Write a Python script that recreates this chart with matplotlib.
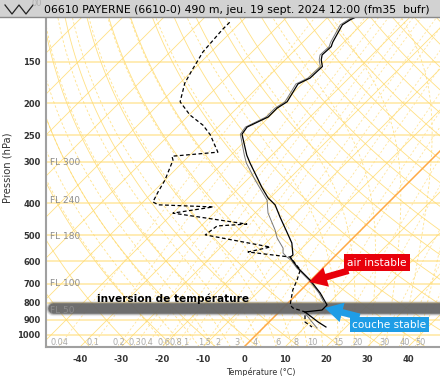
import numpy as np
import matplotlib
matplotlib.use('Agg')
import matplotlib.pyplot as plt
from matplotlib.patches import Rectangle
from matplotlib.lines import Line2D

## sounding data
# temperature, black solid
p_temp = [110, 112, 116, 131, 135, 143, 148, 155, 168, 175, 198, 207, 220, 236, 248,
          287, 303, 360, 386, 405, 441, 492, 528, 574, 582, 594, 628, 683, 747, 812,
          841, 852, 914, 946]
t_temp = [-53.2, -53.9, -54.6, -52.7, -52.0, -52.2, -51.2, -49.3, -49.5, -51.0, -49.3, -50.2, -50.2, -52.9, -52.4,
          -46.1, -43.4, -34.4, -30.5, -27.1, -22.9, -17.3, -13.7, -10.5, -10.7, -9.5, -6.1, -0.2, 5.4, 10.0,
          10.0, 6.3, 12.0, 15.1]
# second temperature trace, thin grey
p_temp2 = [110, 112, 116, 131, 135, 143, 148, 155, 168, 175, 198, 207, 220, 236, 248,
           287, 303, 341, 392, 429, 482, 510, 547, 566, 582, 594, 628, 683, 747, 812,
           841, 852, 914, 953]
t_temp2 = [-53.7, -54.4, -55.1, -53.2, -52.5, -52.7, -51.7, -49.8, -50.0, -51.5, -49.8, -50.7, -50.7, -53.3, -52.8,
           -46.7, -44.3, -38.0, -30.2, -26.8, -21.0, -18.5, -14.6, -13.4, -11.5, -9.8, -6.4, -0.5, 5.1, 9.6,
           9.6, 6.1, 10.5, 13.2]
# dew point, black dashed
p_dew = [114, 120, 140, 159, 174, 198, 217, 233, 249, 281, 289, 297, 341, 370, 397,
         405, 411, 429, 463, 469, 499, 543, 562, 582, 636, 683, 732, 812, 829, 852,
         914, 946]
t_dew = [-82.7, -82.7, -82.0, -80.2, -78.8, -75.4, -69.8, -64.1, -60.0, -53.9, -64.1, -62.9, -60.0, -58.8, -57.6,
         -55.6, -41.7, -50.0, -29.3, -36.1, -36.8, -18.0, -22.2, -10.7, -5.1, -3.4, -2.0, 1.0, 2.4, 6.3,
         8.8, 11.7]

## diagram background
isobars = [150, 200, 250, 300, 400, 500, 600, 700, 800, 900, 1000]
xticks = [-40, -30, -20, -10, 0, 10, 20, 30, 40]
mix_ratios = [0.04, 0.1, 0.2, 0.3, 0.4, 0.6, 0.8, 1, 1.5, 2, 3, 4, 6, 8, 10, 15, 20, 30, 40, 50]
mix_labels = ['0.04', '0.1', '0.2', '0.3', '0.4', '0.6', '0.8', '1', '1.5', '2', '3', '4', '6', '8',
              '10', '15', '20', '30', '40', '50']
fl_names = ['FL 300', 'FL 240', 'FL 180', 'FL 100', 'FL 50']
fl_press = [301, 393, 506, 697, 843]
inversion_p = 828

title = '06610 PAYERNE (6610-0) 490 m, jeu. 19 sept. 2024 12:00 (fm35  bufr)'

W, H = 440, 376
fig = plt.figure(figsize=(W / 100, H / 100), dpi=100)
ax_l, ax_r, ax_b, ax_t = 46, 440, 347, 3.4   # pixel box, measured from top
ax = fig.add_axes([ax_l / W, (H - ax_b) / H, (ax_r - ax_l) / W, (ax_b - ax_t) / H])

P_BOT, P_TOP = 1087, 100
T_MIN, T_MAX = -48.3, 47.8
ax.set_yscale('log')
ax.set_ylim(P_BOT, P_TOP)
ax.set_xlim(T_MIN, T_MAX)

# 45 degree skew in pixel space
px_deg = (ax_r - ax_l) / (T_MAX - T_MIN)
px_ln = (ax_b - ax_t) / np.log(P_BOT / P_TOP)
SKEW = px_ln / px_deg


def skx(t, p):
    return np.asarray(t, float) + SKEW * np.log(P_BOT / np.asarray(p, float))


yel = '#ffdb6e'
pp = np.geomspace(P_BOT, P_TOP, 120)

for p in isobars:
    ax.axhline(p, color='#ffe9a8', lw=1.2, zorder=1)

for t in range(-160, 60, 10):
    if t == 0:
        ax.plot(skx([t, t], [P_BOT, P_TOP]), [P_BOT, P_TOP], color='#ffaa45', lw=1.1, zorder=1.5)
    else:
        ax.plot(skx([t, t], [P_BOT, P_TOP]), [P_BOT, P_TOP], color=yel, lw=0.6, alpha=0.85, zorder=1)

# dry adiabats
for th in range(220, 480, 10):
    tt = th * (pp / 1000.) ** 0.2857 - 273.15
    ax.plot(skx(tt, pp), pp, color=yel, lw=0.6, alpha=0.85, zorder=1)

# moist adiabats
Rd, cp, Lv, eps = 287.04, 1005.7, 2.501e6, 0.622


def moist_line(t0):
    out = {}
    for p_end in (P_TOP, P_BOT):
        ps = np.geomspace(1000., p_end, 300)
        T = t0 + 273.15
        ts = [T]
        for i in range(1, len(ps)):
            dlnp = np.log(ps[i] / ps[i - 1])
            es = 6.112 * np.exp(17.67 * (T - 273.15) / (T - 29.65))
            rs = eps * es / (ps[i - 1] - es)
            dT = (Rd * T + Lv * rs) / (cp + Lv ** 2 * rs * eps / (Rd * T ** 2))
            T = T + dT * dlnp
            ts.append(T)
        out[p_end] = (ps, np.array(ts) - 273.15)
    ps = np.concatenate([out[P_BOT][0][::-1], out[P_TOP][0][1:]])
    ts = np.concatenate([out[P_BOT][1][::-1], out[P_TOP][1][1:]])
    return ps, ts


for t0 in range(-24, 44, 4):
    ps, ts = moist_line(t0)
    ax.plot(skx(ts, ps), ps, color=yel, lw=0.6, alpha=0.8, ls=(0, (3, 2.5)), zorder=1)


def mix_td(w, p):
    e = w * p / (622. + w)
    a = np.log(e / 6.112)
    tw = 243.5 * a / (17.67 - a)
    ti = 272.62 * a / (22.46 - a)
    return np.where(tw < 0, ti, tw)


for w, lab in zip(mix_ratios, mix_labels):
    ax.plot(skx(mix_td(w, pp), pp), pp, color='#ffe08a', lw=0.6, alpha=0.85,
            ls=(0, (2.5, 2.5)), zorder=1)
    td = float(mix_td(w, 1075.))
    ax.text(float(skx(td, 1075.)), 1050, lab, fontsize=5.9, color='#a8a8a8',
            ha='center' if td < 0 else 'left', va='center', zorder=2)

for name, p in zip(fl_names, fl_press):
    ax.text(0.01, p, name, transform=ax.get_yaxis_transform(), fontsize=6.5,
            color='#8c8c8c', va='center', ha='left', zorder=3.5)

## inversion band
ytr = ax.get_yaxis_transform()
for lw, a in [(11, 0.15), (9.3, 0.35), (7.6, 0.9)]:
    ax.plot([0.018, 1.3], [inversion_p, inversion_p], transform=ytr, color='#666666',
            lw=lw, alpha=a, solid_capstyle='round', clip_on=False, zorder=3)

## profiles
ax.plot(skx(t_temp2, p_temp2), p_temp2, color='#777777', lw=0.7, zorder=4)
ax.plot(skx(t_temp, p_temp), p_temp, color='black', lw=0.9, zorder=4)
ax.plot(skx(t_dew, p_dew), p_dew, color='black', lw=0.9, ls=(0, (3, 2)), zorder=4)

fig.text(97 / W, 1 - 299 / H, 'inversion de température', fontsize=7.6, fontweight='bold',
         ha='left', va='center')

## annotations
ax.annotate('air instable', xy=(float(skx(0, 692)), 692), xytext=(377, H - 262.5),
            textcoords='figure pixels', ha='center', va='center', color='white', fontsize=7.6,
            bbox=dict(boxstyle='square,pad=0.3', fc='#e8000b', ec='none'),
            arrowprops=dict(arrowstyle='simple,head_length=0.8,head_width=0.9,tail_width=0.3',
                            fc='#e8000b', ec='none', mutation_scale=16, shrinkA=0, shrinkB=0),
            zorder=6, annotation_clip=False)
ax.annotate('couche stable', xy=(float(skx(10.2, 829)), 829), xytext=(389.5, H - 324.5),
            textcoords='figure pixels', ha='center', va='center', color='white', fontsize=7.6,
            bbox=dict(boxstyle='square,pad=0.25', fc='#1e9de6', ec='none'),
            arrowprops=dict(arrowstyle='simple,head_length=0.8,head_width=0.9,tail_width=0.3',
                            fc='#1e9de6', ec='none', mutation_scale=16, shrinkA=0, shrinkB=0),
            zorder=6, annotation_clip=False)

## axes cosmetics
for s in ['top', 'right']:
    ax.spines[s].set_visible(False)
for s in ['left', 'bottom']:
    ax.spines[s].set_color('#a0a0a0')
    ax.spines[s].set_linewidth(1.5)
ax.yaxis.set_minor_locator(plt.NullLocator())
ax.set_yticks(isobars)
ax.set_yticklabels([str(p) for p in isobars], fontweight='bold')
ax.set_xticks(xticks)
ax.set_xticklabels([str(t) for t in xticks], fontweight='bold')
ax.tick_params(axis='both', length=0, labelsize=6, colors='#333333')
ax.tick_params(axis='y', pad=4)
ax.tick_params(axis='x', pad=6)

fig.text(8 / W, 1 - 168 / H, 'Pression (hPa)', rotation=90, fontsize=7.2, color='#333333',
         ha='center', va='center')
fig.text(261 / W, 1 - 372 / H, 'Température (°C)', fontsize=5.8, color='#333333',
         ha='center', va='center')

## title bar
fig.add_artist(Rectangle((0, 1 - 17 / H), 1, 17 / H, transform=fig.transFigure,
                         fc='#d2d2d2', ec='none', zorder=10))
fig.add_artist(Line2D([0, 1], [1 - 17 / H, 1 - 17 / H], transform=fig.transFigure,
                      color='#8a8a8a', lw=1, zorder=11))
zx = np.array([5, 12, 19, 26, 33]) / W
zy = 1 - np.array([5, 14, 5, 14, 5]) / H
fig.add_artist(Line2D(zx, zy, transform=fig.transFigure, color='#222222', lw=0.9, zorder=11))
fig.text(32 / W, 1 - 3 / H, '00', fontsize=6, color='#b0b0b0', ha='left', va='center', zorder=11)
fig.text(44 / W, 1 - 10 / H, title, fontsize=7.8, color='black', ha='left', va='center', zorder=12)

fig.savefig('out.png', dpi=100)
